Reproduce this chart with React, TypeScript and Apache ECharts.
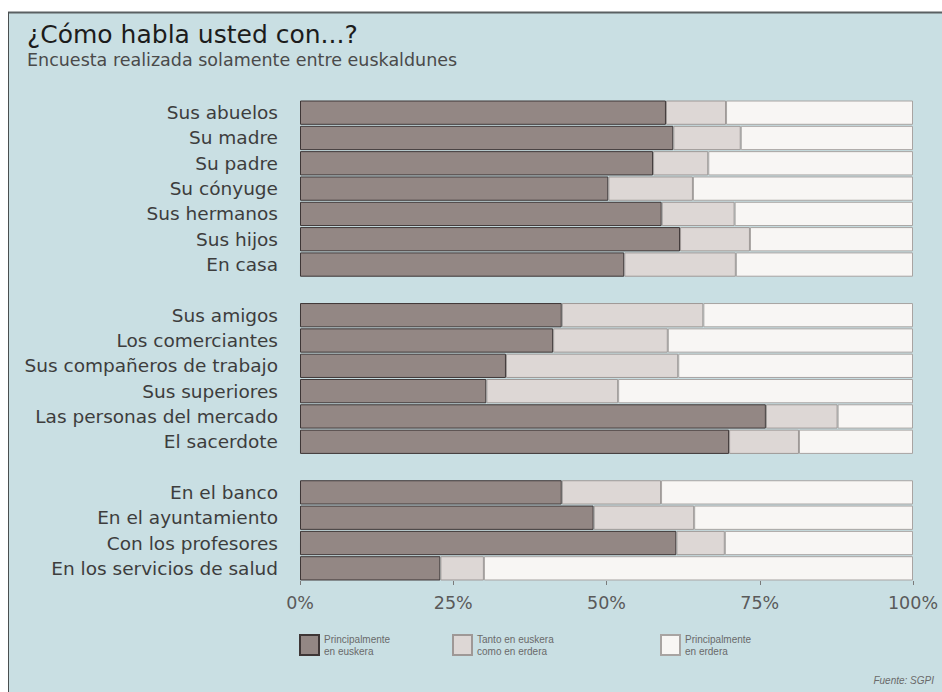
import React, { useEffect, useRef } from "react";
import * as echarts from "echarts";

const categories = [
  "Sus abuelos", "Su madre", "Su padre", "Su cónyuge", "Sus hermanos", "Sus hijos", "En casa",
  " ",
  "Sus amigos", "Los comerciantes", "Sus compañeros de trabajo", "Sus superiores", "Las personas del mercado", "El sacerdote",
  "  ",
  "En el banco", "En el ayuntamiento", "Con los profesores", "En los servicios de salud",
];

const euskera = [59.7, 60.9, 57.6, 50.3, 59.0, 62.0, 52.9, null, 42.7, 41.3, 33.6, 30.4, 76.0, 70.0, null, 42.7, 47.9, 61.4, 22.9];
const ambos = [9.8, 11.0, 9.0, 13.8, 11.9, 11.4, 18.2, null, 23.1, 18.7, 28.1, 21.5, 11.7, 11.4, null, 16.2, 16.4, 7.9, 7.1];
const erdera = [30.5, 28.1, 33.4, 35.9, 29.1, 26.6, 28.9, null, 34.2, 40.0, 38.3, 48.1, 12.3, 18.6, null, 41.1, 35.7, 30.7, 70.0];

const seriesNames = ["Principalmente\nen euskera", "Tanto en euskera\ncomo en erdera", "Principalmente\nen erdera"];
const xTicks = [0, 25, 50, 75, 100];

export default function App() {
  const ref = useRef<HTMLDivElement>(null);
  useEffect(() => {
    if (!ref.current) return;
    const chart = echarts.init(ref.current, null, { renderer: "svg" });
    const font = "Liberation Sans, Arial, sans-serif";
    const wide = "DejaVu Sans, sans-serif";
    const legendText = { fontSize: 10, color: "#6a6a6a", lineHeight: 12, fontFamily: font };
    const mkLegend = (name: string, left: number) => ({
      data: [name],
      left,
      top: 628,
      icon: "rect",
      itemWidth: 19,
      itemHeight: 20,
      itemGap: 6,
      textStyle: legendText,
      selectedMode: false,
    });
    chart.setOption({
      animation: false,
      backgroundColor: "#ffffff",
      graphic: [
        { type: "rect", z: -10, shape: { x: 8, y: 12, width: 934, height: 680 }, style: { fill: "#c9dfe3" } },
        { type: "line", z: -9, shape: { x1: 8, y1: 12.5, x2: 942, y2: 12.5 }, style: { stroke: "#5a6062", lineWidth: 2 } },
        { type: "line", z: -9, shape: { x1: 8.5, y1: 12, x2: 8.5, y2: 692 }, style: { stroke: "#4a4f50", lineWidth: 1 } },
        {
          type: "text",
          right: 8,
          top: 675,
          style: { text: "Fuente: SGPI", fontSize: 10, fontStyle: "italic", fill: "#6a6a6a", fontFamily: font },
        },
      ],
      title: {
        text: "¿Cómo habla usted con...?",
        subtext: "Encuesta realizada solamente entre euskaldunes",
        left: 22,
        top: 17,
        itemGap: 4,
        textStyle: { fontSize: 25, fontWeight: "normal", color: "#1c1c1c", fontFamily: wide },
        subtextStyle: { fontSize: 17.5, color: "#4a4a4a", fontFamily: wide },
      },
      legend: [mkLegend(seriesNames[0], 294), mkLegend(seriesNames[1], 447), mkLegend(seriesNames[2], 655)],
      grid: { left: 300, right: 29, top: 100, bottom: 111 },
      xAxis: {
        type: "value",
        min: 0,
        max: 100,
        interval: 25,
        axisLine: { show: false },
        axisTick: { show: true, length: 4, lineStyle: { color: "#7a7a7a" } },
        splitLine: { show: false },
        axisLabel: {
          margin: 13,
          fontSize: 17.5,
          color: "#5a5a5a",
          fontFamily: wide,
          formatter: (v: number) => (xTicks.includes(v) ? `${v}%` : ""),
        },
      },
      yAxis: {
        type: "category",
        inverse: true,
        data: categories,
        axisLine: { show: false },
        axisTick: { show: false },
        axisLabel: { margin: 22, fontSize: 18.5, color: "#3d3d3d", fontFamily: wide },
      },
      series: [
        {
          name: seriesNames[0],
          type: "bar",
          stack: "t",
          data: euskera,
          barCategoryGap: "4%",
          itemStyle: { color: "#938784", borderColor: "#3e3636", borderWidth: 1 },
        },
        {
          name: seriesNames[1],
          type: "bar",
          stack: "t",
          data: ambos,
          itemStyle: { color: "#ddd7d5", borderColor: "#9e9896", borderWidth: 1 },
        },
        {
          name: seriesNames[2],
          type: "bar",
          stack: "t",
          data: erdera,
          itemStyle: { color: "#f8f6f4", borderColor: "#a8a4a2", borderWidth: 1 },
        },
      ],
    });
    return () => chart.dispose();
  }, []);
  return <div ref={ref} style={{ position: "fixed", left: 0, top: 0, width: 942, height: 692 }} />;
}
